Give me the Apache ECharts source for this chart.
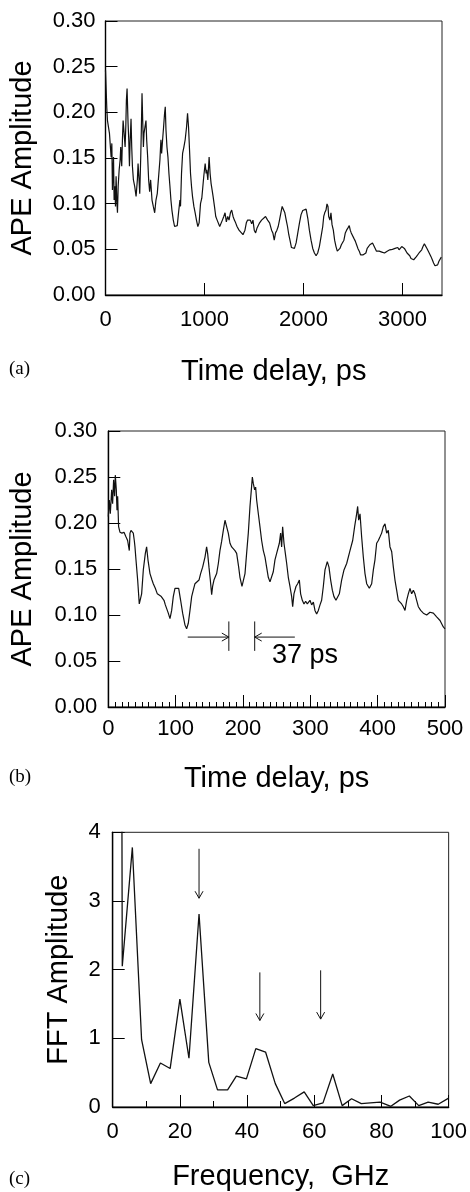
<!DOCTYPE html>
<html><head><meta charset="utf-8">
<script src="https://cdn.jsdelivr.net/npm/echarts@6/dist/echarts.min.js"></script>
<style>html,body{margin:0;padding:0;background:#fff}#c{width:470px;height:1192px}</style>
</head><body><div id="c"></div>
<script>
// ---------- DATA ----------
// Panel (a): time delay (ps) vs APE amplitude
const seriesA = [
[0,0.246],[13,0.205],[20,0.191],[40,0.177],[47,0.166],[57,0.151],[64,0.166],[70,0.115],[81,0.151],[87,0.104],[94,0.119],[101,0.097],[107,0.130],[114,0.104],[121,0.090],[128,0.119],[138,0.137],[148,0.148],[154,0.162],[164,0.141],[171,0.170],[178,0.191],[188,0.177],[198,0.162],[205,0.184],[211,0.213],[218,0.226],[228,0.188],[235,0.170],[242,0.141],[248,0.166],[258,0.193],[265,0.162],[272,0.141],[282,0.126],[295,0.119],[309,0.108],[322,0.126],[329,0.144],[339,0.126],[346,0.111],[356,0.151],[362,0.180],[369,0.221],[376,0.191],[383,0.162],[389,0.177],[399,0.184],[409,0.191],[416,0.170],[426,0.151],[436,0.126],[446,0.113],[456,0.126],[470,0.104],[483,0.097],[497,0.090],[510,0.104],[523,0.111],[537,0.113],[550,0.148],[560,0.170],[567,0.155],[577,0.170],[587,0.184],[597,0.199],[604,0.206],[611,0.181],[621,0.162],[631,0.151],[641,0.133],[651,0.119],[661,0.104],[671,0.093],[685,0.082],[698,0.075],[711,0.074],[725,0.076],[738,0.090],[752,0.104],[758,0.097],[768,0.133],[779,0.155],[792,0.162],[805,0.170],[819,0.184],[829,0.199],[839,0.184],[849,0.159],[859,0.133],[869,0.119],[879,0.108],[893,0.097],[906,0.090],[919,0.082],[933,0.075],[946,0.079],[960,0.100],[973,0.106],[983,0.108],[993,0.130],[1007,0.144],[1017,0.133],[1023,0.137],[1034,0.126],[1047,0.151],[1057,0.133],[1067,0.122],[1077,0.115],[1087,0.108],[1101,0.097],[1114,0.086],[1128,0.082],[1141,0.080],[1154,0.075],[1168,0.077],[1181,0.082],[1195,0.086],[1208,0.090],[1221,0.080],[1235,0.086],[1248,0.082],[1262,0.090],[1275,0.093],[1289,0.086],[1302,0.082],[1315,0.079],[1329,0.075],[1349,0.071],[1369,0.070],[1389,0.066],[1409,0.071],[1423,0.079],[1436,0.082],[1450,0.080],[1463,0.082],[1477,0.078],[1490,0.082],[1503,0.071],[1517,0.068],[1530,0.073],[1544,0.075],[1557,0.079],[1577,0.082],[1597,0.084],[1617,0.086],[1638,0.082],[1658,0.079],[1678,0.071],[1691,0.068],[1705,0.060],[1718,0.068],[1732,0.071],[1745,0.075],[1758,0.082],[1772,0.090],[1785,0.097],[1799,0.095],[1812,0.090],[1826,0.082],[1839,0.075],[1852,0.066],[1866,0.059],[1879,0.052],
[1893,0.050],[1909,0.051],[1926,0.057],[1943,0.068],[1960,0.079],[1976,0.088],[1993,0.0925],[2010,0.093],[2027,0.094],[2044,0.084],[2060,0.071],[2077,0.060],[2094,0.051],[2111,0.046],[2128,0.043],[2144,0.046],[2161,0.053],[2178,0.064],[2195,0.075],[2205,0.086],[2215,0.090],[2228,0.093],[2238,0.0997],[2248,0.097],[2255,0.086],[2268,0.082],[2278,0.090],[2289,0.077],[2302,0.071],[2315,0.060],[2329,0.053],[2342,0.048],[2356,0.049],[2369,0.051],[2383,0.055],[2396,0.057],[2409,0.060],[2423,0.068],[2436,0.071],[2450,0.0735],[2463,0.076],[2473,0.071],[2483,0.068],[2497,0.066],[2510,0.062],[2524,0.059],[2537,0.055],[2550,0.051],[2564,0.048],[2577,0.044],[2591,0.042],[2604,0.044],[2617,0.042],[2631,0.046],[2644,0.051],[2658,0.053],[2671,0.055],[2685,0.055],[2698,0.057],[2711,0.055],[2725,0.051],[2738,0.048],[2752,0.046],[2765,0.048],[2778,0.046],[2792,0.047],[2805,0.048],[2819,0.046],[2832,0.047],[2846,0.048],[2859,0.048],[2872,0.0495],[2886,0.049],[2899,0.050],[2913,0.049],[2926,0.051],[2940,0.0495],[2953,0.052],[2966,0.0495],[2980,0.051],[2993,0.053],[3007,0.054],[3020,0.051],[3034,0.0495],[3047,0.046],[3060,0.044],[3074,0.043],[3087,0.040],[3101,0.039],[3114,0.0386],[3128,0.040],[3141,0.042],[3154,0.044],[3168,0.046],[3181,0.048],[3195,0.0495],[3208,0.053],[3222,0.056],[3235,0.054],[3248,0.051],[3262,0.048],[3275,0.046],[3289,0.042],[3302,0.0386],[3315,0.035],[3329,0.032],[3342,0.031],[3356,0.033],[3369,0.037],[3383,0.039],[3393,0.0415]
];
// Panel (b): first 500 ps
const seriesB = [
[0,0.207],[1.5,0.225],[3,0.21],[5,0.236],[6.4,0.221],[7.9,0.247],[9.4,0.229],[10.4,0.252],[11.9,0.236],[12.9,0.214],[13.9,0.229],[15.3,0.196],[17.3,0.190],[20.3,0.189],[23.3,0.190],[26.2,0.185],[28.7,0.181],[31.2,0.170],[32.2,0.189],[33.7,0.192],[35.6,0.192],[37.1,0.189],[38.6,0.181],[39.6,0.174],[41.1,0.160],[43.6,0.138],[46,0.112],[47,0.112],[49.5,0.123],[52,0.149],[55,0.167],[56.9,0.174],[58.9,0.160],[61.9,0.145],[64.9,0.138],[66.8,0.134],[69.8,0.129],[72.8,0.123],[75.7,0.123],[78.7,0.120],[80.7,0.120],[82.7,0.116],[84.7,0.111],[89.1,0.102],[91.6,0.096],[94.1,0.105],[96.5,0.120],[99,0.129],[101.5,0.131],[104.5,0.129],[107.4,0.116],[110.4,0.102],[113.9,0.089],[116.3,0.085],[118.8,0.091],[121.3,0.105],[123.8,0.120],[126.2,0.127],[128.7,0.134],[131.2,0.136],[134.7,0.138],[137.1,0.145],[140.1,0.152],[143.6,0.163],[146,0.174],[147.5,0.167],[149.5,0.152],[151.5,0.138],[153.5,0.122],[154.9,0.131],[156.9,0.138],[158.9,0.138],[160.9,0.145],[163.4,0.156],[165.8,0.170],[168.3,0.180],[170.8,0.192],[173.3,0.203],[175.7,0.196],[178.2,0.189],[180.7,0.178],[183.2,0.174],[185.6,0.172],[188.1,0.170],[190.6,0.167],[193.6,0.152],[195.5,0.141],[198.5,0.131],[200.5,0.131],[203,0.145],[205.4,0.167],[207.9,0.189],[210.4,0.218],[212.4,0.236],[213.9,0.250],[215.3,0.243],[217.3,0.236],[218.8,0.239],[220.3,0.225],[222.8,0.210],[225.2,0.196],[227.7,0.181],[230.2,0.170],[232.7,0.163],[235.1,0.152],[237.6,0.141],[240.1,0.136],[242.6,0.138],[245,0.147],[247.5,0.160],[250,0.167],[254,0.178],[255.9,0.189],[257.4,0.174],[258.9,0.196],[260.9,0.178],[262.9,0.167],[264.9,0.156],[267.3,0.141],[269.8,0.131],[272.3,0.120],[273.8,0.109],[275.7,0.123],[278.7,0.131],[281.2,0.134],[283.7,0.138],[285.6,0.123],[288.1,0.116],[290.6,0.112],[293.1,0.115],[295.5,0.112],[299.5,0.116],[302,0.111],[304.5,0.114],[306.9,0.105],[309.4,0.101],[311.9,0.105],[314.4,0.111],[316.8,0.116],[319.3,0.131],[321.8,0.149],[325.2,0.158],[327.7,0.152],[330.2,0.138],[332.7,0.127],[335.1,0.120],[338.1,0.116],[340.6,0.118],[343.1,0.123],[346.5,0.138],[350,0.149],[354,0.156],[358.9,0.170],[362.9,0.181],[365.8,0.196],[368.8,0.210],[370.3,0.218],[371.8,0.203],[373.8,0.210],[376.2,0.185],[378.7,0.163],[381.2,0.145],[383.7,0.134],[387.6,0.129],[391.1,0.134],[393.6,0.149],[396,0.160],[398.5,0.178],[401,0.181],[403.5,0.185],[405.9,0.189],[408.4,0.196],[410.9,0.199],[413.4,0.189],[415.8,0.192],[418.3,0.174],[420.8,0.169],[423.3,0.152],[425.7,0.138],[428.2,0.127],[430.7,0.116],[433.2,0.116],[435.6,0.112],[438.1,0.109],[440.6,0.105],[443.1,0.116],[445.5,0.123],[448,0.129],[450.5,0.123],[453,0.127],[455.4,0.123],[457.9,0.116],[460.4,0.109],[463.9,0.105],[467.8,0.102],[472.8,0.100],[477.7,0.103],[482.7,0.102],[487.6,0.098],[492.6,0.094],[497.5,0.087],[500,0.085]
];
// Panel (c): FFT spectrum
const fftFreq = [0,2.85,5.85,8.6,11.3,14.2,17.1,20.0,22.7,25.7,28.6,31.2,34.2,36.8,39.8,42.6,45.5,48.4,51.2,54.1,57.0,59.7,62.6,65.5,68.3,71.1,74.0,76.7,79.6,82.8,85.4,88.3,91.1,93.9,96.9,100];
const fftAmp  = [60,2.05,3.78,0.98,0.34,0.64,0.56,1.57,0.71,2.81,0.65,0.25,0.25,0.45,0.41,0.85,0.80,0.34,0.05,0.13,0.22,0.02,0.06,0.48,0.02,0.12,0.05,0.06,0.07,0.01,0.10,0.16,0.02,0.07,0.04,0.13];

// Annotations (data coordinates)
const arrowsB = [[118,0.076,179,0.076],[277,0.076,217.4,0.076]];   // x1,y1 -> x2,y2 (head at x2,y2)
const barsB   = [[179,0.061,179,0.093],[217.4,0.061,217.4,0.093]];
const labelB  = [[243,0.0554,'37 ps']];
const arrowsC = [[25.7,3.76,25.7,3.04],[43.8,1.96,43.8,1.26],[61.9,1.99,61.9,1.28]];

// Tick / axis text
const titlesX = ['Time delay, ps','Time delay, ps','Frequency,  GHz'];
const titlesY = ['APE Amplitude','APE Amplitude','FFT Amplitude'];
const panelTags = ['(a)','(b)','(c)'];

// ---------- CHART ----------
const SANS = '"Liberation Sans", Arial, Helvetica, sans-serif';
const SERIF = '"Liberation Serif", "Times New Roman", serif';
const TICK_FS = 22, TITLE_FS = 29;
const chart = echarts.init(document.getElementById('c'), null, {renderer:'canvas'});

const grids = [
  {left:105.5, top:21,    width:336.5, height:274},
  {left:108.3, top:431,   width:336.7, height:276},
  {left:112.7, top:832.3, width:336.3, height:275}
].map(g => Object.assign(g, {show:true, borderColor:'#222', borderWidth:1, backgroundColor:'transparent'}));

const plain = v => String(Math.round(v));
const fmt2 = v => v.toFixed(2);
function lab(margin, extra){
  return Object.assign({color:'#000', fontSize:TICK_FS, fontFamily:SANS, margin:margin}, extra||{});
}
function xAx(i, o){
  return Object.assign({
    gridIndex:i, type:'value',
    axisLine:{onZero:false, lineStyle:{color:'#000', width:1.4}},
    axisTick:{inside:true, length:12, lineStyle:{color:'#000', width:1}},
    splitLine:{show:false},
    name:titlesX[i], nameLocation:'middle',
    nameTextStyle:{color:'#000', fontSize:TITLE_FS, fontFamily:SANS}
  }, o);
}
function yAx(i, o){
  return Object.assign({
    gridIndex:i, type:'value',
    axisLine:{onZero:false, lineStyle:{color:'#000', width:1.4}},
    axisTick:{inside:true, length:12, lineStyle:{color:'#000', width:1}},
    splitLine:{show:false},
    name:titlesY[i], nameLocation:'middle',
    nameTextStyle:{color:'#000', fontSize:TITLE_FS, fontFamily:SANS}
  }, o);
}

function arrowRender(params, api){
  const p1 = api.coord([api.value(0), api.value(1)]);
  const p2 = api.coord([api.value(2), api.value(3)]);
  let dx = p2[0]-p1[0], dy = p2[1]-p1[1];
  const L = Math.hypot(dx,dy); dx/=L; dy/=L;
  const nx = -dy, ny = dx, hl = 7, hw = 4;
  const a = [p2[0]-hl*dx+hw*nx, p2[1]-hl*dy+hw*ny];
  const b = [p2[0]-hl*dx-hw*nx, p2[1]-hl*dy-hw*ny];
  const st = {stroke:'#111', lineWidth:1, fill:null};
  return {type:'group', children:[
    {type:'line', shape:{x1:p1[0],y1:p1[1],x2:p2[0],y2:p2[1]}, style:st},
    {type:'polyline', shape:{points:[a,p2,b]}, style:st}
  ]};
}
function barRender(params, api){
  const p1 = api.coord([api.value(0), api.value(1)]);
  const p2 = api.coord([api.value(2), api.value(3)]);
  return {type:'line', shape:{x1:p1[0],y1:p1[1],x2:p2[0],y2:p2[1]}, style:{stroke:'#111', lineWidth:1}};
}
function textRender(params, api){
  const p = api.coord([api.value(0), api.value(1)]);
  return {type:'text', x:p[0], y:p[1], style:{text:labelB[params.dataIndex][2], fill:'#000', fontSize:27, fontFamily:SANS, align:'left', verticalAlign:'middle'}};
}

const lineStyle = {color:'#111', width:1.2};
const option = {
  animation:false,
  backgroundColor:'#fff',
  grid: grids,
  xAxis:[
    xAx(0,{min:0, max:3400, interval:1000, nameGap:62, axisLabel:lab(14,{showMaxLabel:false, formatter:plain})}),
    xAx(1,{min:0, max:500, interval:100, nameGap:57, axisLabel:lab(11,{formatter:plain}),
          minorTick:{show:true, splitNumber:10, length:5, lineStyle:{color:'#000', width:1}}}),
    xAx(2,{min:0, max:100, interval:20, nameGap:55, axisLabel:lab(14,{formatter:plain}),
          minorTick:{show:true, splitNumber:2, length:6, lineStyle:{color:'#000', width:1}}})
  ],
  yAxis:[
    yAx(0,{min:0, max:0.3, interval:0.05, nameGap:68, axisLabel:lab(10,{formatter:fmt2})}),
    yAx(1,{min:0, max:0.3, interval:0.05, nameGap:71, axisLabel:lab(11,{formatter:fmt2})}),
    yAx(2,{min:0, max:4, interval:1, nameGap:39, axisLabel:lab(12,{formatter:plain})})
  ],
  graphic:[
    {type:'text', left:9, top:360, style:{text:panelTags[0], font:'19px '+SERIF, fill:'#000'}},
    {type:'text', left:9, top:768, style:{text:panelTags[1], font:'19px '+SERIF, fill:'#000'}},
    {type:'text', left:9, top:1170, style:{text:panelTags[2], font:'19px '+SERIF, fill:'#000'}}
  ],
  series:[
    {type:'line', xAxisIndex:0, yAxisIndex:0, data:seriesA, showSymbol:false, lineStyle, clip:true},
    {type:'line', xAxisIndex:1, yAxisIndex:1, data:seriesB, showSymbol:false, lineStyle, clip:true},
    {type:'line', xAxisIndex:2, yAxisIndex:2, data:fftFreq.map((f,i)=>[f,fftAmp[i]]), showSymbol:false, lineStyle:{color:'#111', width:1.3}, clip:true},
    {type:'custom', xAxisIndex:1, yAxisIndex:1, data:arrowsB, renderItem:arrowRender, encode:{x:[0,2], y:[1,3]}, silent:true},
    {type:'custom', xAxisIndex:1, yAxisIndex:1, data:barsB, renderItem:barRender, encode:{x:[0,2], y:[1,3]}, silent:true},
    {type:'custom', xAxisIndex:1, yAxisIndex:1, data:labelB.map(d=>[d[0],d[1]]), renderItem:textRender, encode:{x:0, y:1}, silent:true},
    {type:'custom', xAxisIndex:2, yAxisIndex:2, data:arrowsC, renderItem:arrowRender, encode:{x:[0,2], y:[1,3]}, silent:true}
  ]
};
chart.setOption(option);
</script>
</body></html>
